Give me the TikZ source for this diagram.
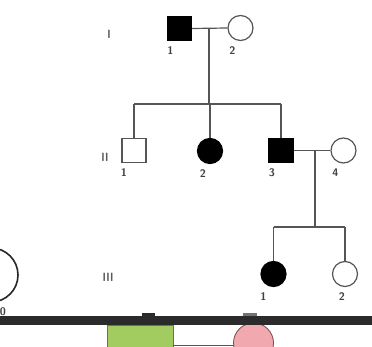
\documentclass[tikz,border=0pt]{standalone}
\usepackage{tikz}
\usetikzlibrary{positioning}
\usepackage{amsmath}

\definecolor{pedline}{RGB}{85,85,85}
\definecolor{barcol}{RGB}{43,43,43}
\definecolor{leafgreen}{RGB}{163,204,96}
\definecolor{softpink}{RGB}{242,168,175}

\tikzset{
    male/.style = {rectangle, draw = pedline, line width = 1.2pt, minimum size = 24pt, inner sep = 0pt},
    female/.style = {circle, draw = pedline, line width = 1.2pt, minimum size = 25pt, inner sep = 0pt},
    affected/.style = {fill = black, draw = black},
    numlabel/.style = {font = \sffamily\bfseries\fontsize{11}{12}\selectfont, text = black!75, inner sep = 0pt},
    genlabel/.style = {font = \sffamily\bfseries\fontsize{12}{14}\selectfont, text = black!65, inner sep = 0pt, xscale = 0.85},
    kinline/.style = {draw = pedline, line width = 1.2pt}
}

\begin{document}
\begin{tikzpicture}[x = 1pt, y = -1pt]

        % Define frame
        \useasboundingbox (0,0) rectangle (372,347);
        \clip (0,0) rectangle (372,347);

        % Generation I
        \node[male, affected] (i1) at (179.5,28.5) {};
        \node[female] (i2) at (240.5,28) {};
        \coordinate (mi) at (209,28);
        \coordinate (si) at (209,104);
        \coordinate (sil) at (134,104);
        \coordinate (sir) at (281,104);

        % Generation II
        \node[male] (ii1) at (134,150.5) {};
        \node[female, affected] (ii2) at (210,151) {};
        \node[male, affected] (ii3) at (281,150.5) {};
        \node[female] (ii4) at (343.5,150.5) {};
        \coordinate (mii) at (315,150.5);
        \coordinate (sii) at (315,227);
        \coordinate (siil) at (273.5,227);
        \coordinate (siir) at (345,227);

        % Generation III
        \node[female, affected] (iii1) at (273.5,274) {};
        \node[female] (iii2) at (345,274) {};

        % Lines
        \draw[kinline] (i1.east) -- (i2.west);
        \draw[kinline] (mi) -- (si);
        \draw[kinline] (sil) -- (sir);
        \draw[kinline] (sil) -- (ii1.north);
        \draw[kinline] (ii2.north |- si) -- (ii2.north);
        \draw[kinline] (sir) -- (ii3.north);
        \draw[kinline] (ii3.east) -- (ii4.west);
        \draw[kinline] (mii) -- (sii);
        \draw[kinline] (siil) -- (siir);
        \draw[kinline] (siil) -- (iii1.north);
        \draw[kinline] (siir) -- (iii2.north);

        % Numbers
        \node[numlabel, below = 5pt of i1, xshift = -9pt] (n-i1) {1};
        \node[numlabel, below = 5pt of i2, xshift = -8pt] (n-i2) {2};
        \node[numlabel, below = 5pt of ii1, xshift = -10pt] (n-ii1) {1};
        \node[numlabel, below = 5pt of ii2, xshift = -7pt] (n-ii2) {2};
        \node[numlabel, below = 5pt of ii3, xshift = -9pt] (n-ii3) {3};
        \node[numlabel, below = 5pt of ii4, xshift = -8pt] (n-ii4) {4};
        \node[numlabel, below = 5pt of iii1, xshift = -10pt] (n-iii1) {1};
        \node[numlabel, below = 5pt of iii2, xshift = -3pt] (n-iii2) {2};

        % Generation labels
        \node[genlabel] (g1) at (109,34) {I};
        \node[genlabel] (g2) at (105,157) {II};
        \node[genlabel] (g3) at (108,277) {III};

        % Cut off parts of the page
        \draw[line width = 1.6pt, black!85] (-9,275) circle(27);
        \node[numlabel] (g0) at (3,312) {0};
        \fill[leafgreen] (107,325) rectangle (173,350);
        \draw[line width = 0.8pt, leafgreen!60!black] (107,350) -- (107,325) -- (173,325) -- (173,350);
        \draw[line width = 1pt, pedline] (173,345) -- (234,345);
        \filldraw[fill = softpink, draw = softpink!45!black, line width = 0.8pt] (253.5,343) circle(20);
        \fill[barcol] (142,313) rectangle (155,317);
        \fill[black!55] (243,313) rectangle (257,317);
        \fill[barcol] (0,316) rectangle (372,325);
    \end{tikzpicture}
\end{document}
